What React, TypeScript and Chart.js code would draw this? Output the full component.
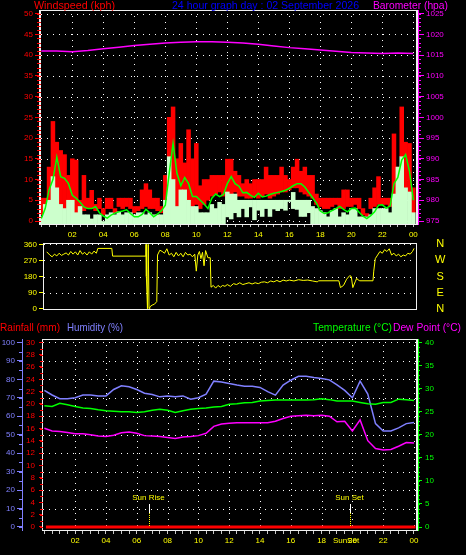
import React, { useEffect, useRef } from 'react';
import { Chart, registerables } from 'chart.js';

Chart.register(...registerables);

const FONT = '"Liberation Sans", Arial, sans-serif';
const RED = '#ff0000';
const MAGENTA = '#ff00ff';
const YELLOW = '#ffff00';
const GREEN = '#00ff00';
const TITLE_BLUE = '#0000ff';
const HUMID = '#8080ff';
const CALM = '#ccffcc';
const FRAME = '#f0f0f0';

// ---------------- data ----------------
const windHours = Array.from({ length: 97 }, (_, i) => i * 0.25);
// top of the red (gust) bars
const windGust = [
  5.5, 5.5, 13, 24, 19, 17, 16, 11,
  15, 14.7, 5, 11, 5.5, 7.4, 4, 5.5,
  3, 5.5, 5.5, 3, 5.5, 5.5, 5.5, 5.5,
  3.5, 3.5, 7.5, 9, 7.5, 5.5, 5.5, 3.5,
  11, 25, 27.5, 15, 18.7, 14, 22, 15,
  18.7, 8.5, 10, 10, 11, 11, 11, 11,
  14.9, 14.9, 12, 11, 9, 10, 9, 10,
  10, 10, 13, 11, 11, 11, 13, 11,
  10, 13, 14.9, 12, 13, 11, 11, 6.5,
  5.5, 5.5, 5.5, 5.5, 5.5, 5.5, 7.5, 7.5,
  5.5, 5.5, 5.5, 3, 1.8, 5.5, 8, 10.7,
  5.5, 5.5, 5.5, 21, 12, 27.5, 19, 18.7,
  8,
];
// bottom of the red (gust) bars
const windGustBase = [
  1.5, 4, 5, 10.7, 8, 4, 3, 5,
  5, 2, 3.5, 2.5, 3, 3, 2.5, 3,
  1.5, 3, 3, 2, 3.5, 3, 3.5, 3,
  2, 2.5, 3, 3.5, 3, 3, 2.5, 2,
  5, 15.5, 10, 3.5, 7.5, 7.5, 5, 3.5,
  4, 3, 4, 5, 6, 6.5, 7, 6,
  7, 6.5, 7, 6, 6, 5.5, 5.5, 6,
  5.5, 6, 6.5, 5.5, 6, 6.5, 7, 7,
  7.5, 8, 8, 7, 6.5, 6, 5.5, 4,
  3.5, 3, 3, 3.5, 4, 3, 3, 3.5,
  3.5, 4, 3, 1.5, 1.2, 3, 3.5, 4,
  4, 4, 3.5, 6.5, 13, 15.5, 8, 7,
  2,
];
// top of the pale (average) bars
const windAvg = [
  1, 4, 5, 10.7, 8, 4, 3, 5,
  5, 2, 3.5, 1.5, 1.5, 0.5, 1.5, 1.5,
  0, 1.5, 2, 1.5, 2.2, 1.5, 2, 2,
  1.5, 2, 2, 1.5, 2, 1.5, 1.5, 1.5,
  5, 15.5, 10, 3.5, 7.5, 7.5, 5, 3.5,
  3.5, 2, 2, 2, 4, 3, 4.5, 4,
  7, 6.5, 6.5, 5, 5, 5, 5, 5,
  5, 5, 5, 5, 5, 5, 5, 5,
  5, 6.9, 5, 5, 5, 5, 3.5, 3,
  2.5, 2, 1, 2.5, 3, 1, 2, 1.5,
  3, 3, 1, 1, 1, 1.5, 3, 3,
  3, 3, 2, 6.5, 13, 15.5, 8, 7,
  2,
];
// bottom of the pale (average) bars
const windLow = [
  0, 0, 0, 0, 0, 0, 0, 0,
  0, 0, 0, 0, 0, 0, 0, 0,
  0, 0, 0, 0, 0, 0, 0, 0,
  0, 0, 0, 0, 0, 0, 0, 0,
  0, 0, 0, 0, 0, 0, 0, 0,
  0, 0, 0, 0, 0, 0, 0, 0,
  1, 0.5, 2, 1, 3, 1, 3.4, 0.3,
  2.6, 1.1, 3, 1.1, 2.9, 2.5, 3, 2.6,
  4.7, 3, 2.8, 1.1, 1.1, 2, 0, 0,
  0, 0, 0, 0, 0, 0, 0, 0,
  0, 0, 0, 0, 0, 0, 0, 0,
  0, 0, 0, 0, 0, 0, 0, 0,
  0,
];
// green average line
const windTrend = [
  0.6, 3, 7.5, 10, 15.4, 10.7, 10.3, 9,
  6.2, 5.5, 4.5, 3.4, 3, 3, 3.5, 2,
  1.2, 0.7, 1.4, 1.9, 2.2, 2.4, 2.7, 1.8,
  1, 1, 1.6, 2.8, 2, 1, 1.7, 2.5,
  3.8, 11.5, 18.7, 11.5, 8.5, 10.5, 9, 5.9,
  5.9, 5, 4.1, 3, 5.5, 6.5, 5.9, 6.4,
  9, 10.7, 9, 8.4, 6.8, 6.9, 6.2, 5.7,
  6.7, 5.8, 6, 6.4, 6.7, 6.9, 7.1, 7.4,
  7.9, 8.5, 9, 9, 8.2, 6.9, 5.6, 4.3,
  2.4, 1.8, 2, 2.5, 3, 3.5, 2.8, 2.2,
  3, 3.1, 2.1, 1.2, 0.6, 1.3, 2.2, 3.8,
  3.9, 3.1, 3.6, 9, 10.5, 14.7, 16, 12,
  5,
];
const baroHours = [0, 1, 2, 3, 4, 5, 6, 7, 8, 9, 10, 11, 12, 13, 14, 15, 16, 17, 18, 19, 20, 21, 22, 23, 24];
const baroHpa = [
  1016.0, 1016.0, 1015.8, 1016.1, 1016.5, 1016.9, 1017.3, 1017.6, 1017.9, 1018.1,
  1018.2, 1018.2, 1018.1, 1017.9, 1017.6, 1017.2, 1016.8, 1016.5, 1016.2, 1015.9,
  1015.6, 1015.5, 1015.4, 1015.5, 1015.4,
];

const dirHours = [
  0.35, 0.55, 0.7, 0.85, 1.0, 1.15, 1.3, 1.45, 1.6, 1.75,
  1.9, 2.05, 2.2, 2.35, 2.5, 2.65, 2.8, 2.95, 3.1, 3.25,
  3.4, 3.55, 3.65, 4.55, 4.6, 6.75, 6.76, 6.78, 6.85, 6.9,
  6.95, 7.0, 7.15, 7.3, 7.45, 7.5, 7.65, 7.8, 7.95, 8.1,
  8.25, 8.4, 8.55, 8.7, 8.85, 9.0, 9.15, 9.3, 9.45, 9.6,
  9.75, 9.9, 10.0, 10.1, 10.2, 10.3, 10.4, 10.5, 10.6, 10.75,
  10.9, 10.95, 11.1, 11.25, 11.4, 11.55, 11.7, 11.85, 12.0, 12.2,
  12.4, 12.6, 12.8, 13.0, 13.2, 13.4, 13.6, 13.8, 14.0, 14.2,
  14.4, 14.6, 14.8, 15.0, 15.2, 15.4, 15.6, 15.8, 16.0, 16.3,
  16.6, 16.9, 17.2, 17.5, 17.8, 17.9, 19.2, 19.3, 19.5, 19.7,
  19.9, 20.0, 20.1, 20.25, 20.35, 20.45, 20.55, 21.4, 21.45, 21.55,
  21.7, 21.85, 22.0, 22.15, 22.3, 22.45, 22.6, 22.75, 22.9, 23.05,
  23.2, 23.35, 23.5, 23.65, 23.8, 23.95, 24.05,
];
const dirDegrees = [
  318, 300, 290, 305, 295, 310, 298, 305, 312, 300,
  320, 305, 318, 300, 325, 305, 315, 300, 318, 305,
  322, 310, 337, 337, 294, 294, 360, 180, 0, 360,
  0, 10, 20, 25, 40, 300, 327, 320, 310, 335,
  300, 310, 290, 315, 295, 310, 290, 315, 300, 305,
  290, 305, 210, 300, 320, 280, 315, 240, 325, 285,
  285, 120, 130, 115, 130, 120, 130, 125, 135, 125,
  140, 135, 145, 135, 140, 145, 138, 145, 140, 148,
  150, 145, 155, 150, 158, 150, 160, 155, 160, 155,
  162, 158, 160, 155, 150, 156, 156, 118, 130, 165,
  185, 180, 118, 150, 170, 160, 156, 156, 210, 280,
  300, 320, 310, 330, 320, 335, 300, 310, 295, 305,
  290, 300, 295, 310, 305, 320, 337,
];

const climateHours = Array.from({ length: 49 }, (_, i) => i * 0.5);
const humidity = [
  74, 71.5, 69.5, 69.5, 70, 71.5, 71.5, 71,
  71, 74.5, 76.5, 76, 74.5, 72.5, 71.8, 70.5,
  71, 70.5, 71, 69.2, 70, 72, 79, 78.6,
  77.7, 76.9, 76.3, 76.3, 75.6, 73.3, 71.4, 76.9,
  79.5, 81.6, 81.6, 81, 80.5, 79.7, 77, 74,
  70, 79, 72, 56, 52, 52, 53.7, 56,
  56.6,
];
const temperature = [
  26.3, 26.1, 26.8, 26.5, 26.1, 25.8, 25.7, 25.4,
  25.2, 25.1, 25.0, 25.0, 24.8, 25.0, 25.3, 25.5,
  25.3, 24.8, 25.2, 25.5, 25.7, 25.8, 26.0, 26.1,
  26.6, 26.7, 26.9, 27.0, 27.3, 27.4, 27.5, 27.5,
  27.5, 27.5, 27.5, 27.6, 27.8, 27.6, 27.3, 27.3,
  27.3, 27.0, 26.7, 26.6, 27.0, 27.0, 27.7, 27.6,
  27.4,
];
const dewPoint = [
  21.4, 20.8, 20.7, 20.5, 20.2, 20.2, 20.0, 19.7,
  19.6, 19.9, 20.4, 20.6, 20.3, 19.8, 19.7, 19.6,
  19.4, 19.2, 19.5, 19.6, 19.8, 20.3, 21.8, 22.3,
  22.5, 22.6, 22.6, 22.6, 22.6, 22.6, 22.9, 23.5,
  24.0, 24.1, 24.2, 24.1, 24.2, 24.0, 22.8, 22.9,
  20.8, 23.2, 18.7, 17.0, 16.7, 16.8, 17.5, 18.3,
  18.2,
];
const rainHours = [0.1, 2, 4, 6, 8, 10, 12, 14, 16, 18, 20, 22, 24.1];
const rainfall = [0, 0, 0, 0, 0, 0, 0, 0, 0, 0, 0, 0, 0];

const sunEvents = [
  { hour: 6.82, label: 'Sun Rise' },
  { hour: 19.87, label: 'Sun Set' },
];

// ---------------- ticks / labels ----------------
const halfHourTicks = Array.from({ length: 49 }, (_, i) => i * 0.5);
const hourLabelValues = [2, 4, 6, 8, 10, 12, 14, 16, 18, 20, 22, 24];
const hourLabels = ['02', '04', '06', '08', '10', '12', '14', '16', '18', '20', '22', '00'];
const windTicks = [0, 5, 10, 15, 20, 25, 30, 35, 40, 45, 50];
const baroTicks = [975, 980, 985, 990, 995, 1000, 1005, 1010, 1015, 1020, 1025];
const dirTicks = [0, 90, 180, 270, 360];
const compassLabels = ['N', 'E', 'S', 'W', 'N'];
const humidityTicks = [0, 10, 20, 30, 40, 50, 60, 70, 80, 90, 100];
const rainTicks = [0, 2, 4, 6, 8, 10, 12, 14, 16, 18, 20, 22, 24, 26, 28, 30];
const tempTicks = [0, 5, 10, 15, 20, 25, 30, 35, 40];
const gridHours = [2, 4, 6, 8, 10, 12, 14, 16, 18, 20, 22, 24];

const WIND_MIN = -0.72;
const WIND_MAX = 50.87;

const pts = (xs: number[], ys: number[]) => xs.map((x, i) => ({ x, y: ys[i] }));
// floating bars; a zero base is anchored to the floor of the plot
const bars = (xs: number[], lo: number[], hi: number[]) =>
  xs.map((x, i) => ({ x, y: [lo[i] === 0 ? WIND_MIN : lo[i], hi[i]] }));
const setTicks = (vals: number[]) => (s: any) => {
  s.ticks = vals.map((v) => ({ value: v }));
};
const hourLabel = (v: any) => {
  const i = hourLabelValues.indexOf(Number(v));
  return i >= 0 ? hourLabels[i] : '';
};

function drawGrid(chart: any, yId: string, yVals: number[], xVals: number[]) {
  const { ctx, chartArea: a } = chart;
  const ys = chart.scales[yId];
  const xs = chart.scales.x;
  ctx.save();
  ctx.strokeStyle = '#ffffff';
  ctx.lineWidth = 1;
  ctx.setLineDash([1, 5]);
  for (const v of yVals) {
    const y = Math.round(ys.getPixelForValue(v)) + 0.5;
    ctx.beginPath();
    ctx.moveTo(a.left, y);
    ctx.lineTo(a.right, y);
    ctx.stroke();
  }
  for (const v of xVals) {
    const x = Math.round(xs.getPixelForValue(v)) + 0.5;
    ctx.beginPath();
    ctx.moveTo(x, a.top);
    ctx.lineTo(x, a.bottom);
    ctx.stroke();
  }
  ctx.restore();
}

function drawFrame(chart: any, lw: number, rw: number) {
  const { ctx, chartArea: a } = chart;
  ctx.save();
  ctx.fillStyle = FRAME;
  const l = Math.round(a.left), r = Math.round(a.right), t = Math.round(a.top), b = Math.round(a.bottom);
  ctx.fillRect(l - lw, t, r - l + lw, 1);
  ctx.fillRect(l - lw, b, r - l + lw, 1);
  ctx.fillRect(l - lw, t, lw, b - t + 1);
  ctx.fillRect(r - rw, t, rw, b - t + 1);
  ctx.restore();
}

function drawMinor(chart: any, specs: { id: string; step: number; len: number; color: string }[]) {
  const { ctx } = chart;
  ctx.save();
  ctx.lineWidth = 1;
  for (const s of specs) {
    const sc = chart.scales[s.id];
    ctx.strokeStyle = s.color;
    ctx.beginPath();
    for (let v = Math.ceil(sc.min / s.step) * s.step; v <= sc.max; v += s.step) {
      const y = Math.round(sc.getPixelForValue(v)) + 0.5;
      if (sc.position === 'left') {
        ctx.moveTo(sc.right - s.len, y);
        ctx.lineTo(sc.right, y);
      } else {
        ctx.moveTo(sc.left, y);
        ctx.lineTo(sc.left + s.len, y);
      }
    }
    ctx.stroke();
  }
  ctx.restore();
}

function text(ctx: any, s: string, x: number, y: number, color: string, size: number, maxW?: number, align = 'left', base = 'alphabetic') {
  ctx.save();
  ctx.font = `${size}px ${FONT}`;
  ctx.fillStyle = color;
  ctx.textAlign = align;
  ctx.textBaseline = base;
  if (maxW) ctx.fillText(s, x, y, maxW);
  else ctx.fillText(s, x, y);
  ctx.restore();
}

const tickFont = { family: FONT, size: 8 };

function hourAxis(min: number, max: number, height: number, tickLength: number, padding: number, display = true) {
  return {
    type: 'linear',
    position: 'bottom',
    display,
    offset: false,
    min,
    max,
    afterBuildTicks: setTicks(halfHourTicks),
    afterFit: (s: any) => {
      s.height = height;
    },
    ticks: { autoSkip: false, maxRotation: 0, minRotation: 0, color: YELLOW, font: tickFont, padding, callback: hourLabel },
    grid: { offset: false, drawOnChartArea: false, drawTicks: true, tickLength, tickColor: '#c8c8c8' },
    border: { display: false },
  };
}

function yAxis(opts: any) {
  return {
    type: 'linear',
    position: opts.position,
    min: opts.min,
    max: opts.max,
    weight: opts.weight || 0,
    afterBuildTicks: setTicks(opts.ticks),
    afterFit: (s: any) => {
      s.width = opts.width;
    },
    ticks: {
      autoSkip: false,
      color: opts.color,
      font: opts.font || tickFont,
      padding: opts.padding,
      crossAlign: opts.crossAlign || 'near',
      callback: opts.callback || ((v: any) => String(v)),
    },
    grid: {
      drawOnChartArea: false,
      drawTicks: opts.tickLength > 0,
      tickLength: opts.tickLength,
      tickColor: opts.tickColor || opts.color,
    },
    border: opts.border ? { display: true, color: opts.color, width: 1 } : { display: false },
  };
}

const baseOptions = {
  responsive: false,
  maintainAspectRatio: false,
  animation: false,
  events: [],
  plugins: { legend: { display: false }, tooltip: { enabled: false } },
  elements: { point: { radius: 0 }, line: { tension: 0 } },
};

const barStyle = { type: 'bar', barPercentage: 1, categoryPercentage: 1, grouped: false, borderWidth: 0 };

function topConfig(): any {
  return {
    type: 'line',
    data: {
      datasets: [
        { label: 'Barometer', yAxisID: 'baro', data: pts(baroHours, baroHpa), borderColor: MAGENTA, borderWidth: 1.5, fill: false },
        { label: 'Wind', yAxisID: 'wind', data: pts(windHours, windTrend), borderColor: GREEN, borderWidth: 1.5, fill: false },
        { ...barStyle, label: 'Average', yAxisID: 'wind', data: bars(windHours, windLow, windAvg), backgroundColor: CALM },
        { ...barStyle, label: 'Gust', yAxisID: 'wind', data: bars(windHours, windGustBase, windGust), backgroundColor: RED },
      ],
    },
    options: {
      ...baseOptions,
      layout: { padding: { top: 10, left: 0, right: 0, bottom: 0 } },
      scales: {
        x: hourAxis(-0.02, 24.3, 16, 3, 3),
        wind: yAxis({ position: 'left', min: WIND_MIN, max: WIND_MAX, ticks: windTicks, width: 41, color: RED, padding: 2, tickLength: 6 }),
        baro: yAxis({ position: 'right', min: 974.28, max: 1025.87, ticks: baroTicks, width: 48, color: MAGENTA, padding: 2, tickLength: 6, border: true }),
      },
    },
    plugins: [
      {
        id: 'topDecor',
        beforeDatasetsDraw(chart: any) {
          drawGrid(chart, 'wind', windTicks, gridHours);
        },
        afterDatasetsDraw(chart: any) {
          drawFrame(chart, 2, 2);
          drawMinor(chart, [
            { id: 'wind', step: 1, len: 4, color: RED },
            { id: 'baro', step: 1, len: 3, color: MAGENTA },
          ]);
        },
        afterDraw(chart: any) {
          const ctx = chart.ctx;
          text(ctx, 'Windspeed (kph)', 34, 9, RED, 11, 81);
          text(ctx, '24 hour graph day : 02 September 2026', 172, 9, TITLE_BLUE, 11, 187);
          text(ctx, 'Barometer (hpa)', 373, 9, MAGENTA, 11, 75);
        },
      },
    ],
  };
}

function dirConfig(): any {
  return {
    type: 'line',
    data: {
      datasets: [
        { label: 'Direction', yAxisID: 'dir', data: pts(dirHours, dirDegrees), borderColor: YELLOW, borderWidth: 1, fill: false },
      ],
    },
    options: {
      ...baseOptions,
      layout: { padding: { top: 7, left: 0, right: 0, bottom: 9 } },
      scales: {
        x: hourAxis(0.174, 24.24, 0, 0, 0, false),
        dir: yAxis({ position: 'left', min: -1.7, max: 367.3, ticks: dirTicks, width: 44, color: YELLOW, padding: 2, tickLength: 5 }),
        compass: yAxis({
          position: 'right', min: -1.7, max: 367.3, ticks: dirTicks, width: 49, color: YELLOW, padding: 0,
          tickLength: 18, tickColor: 'rgba(0,0,0,0)',
          crossAlign: 'center', font: { family: FONT, size: 11, lineHeight: 1 },
          callback: (v: any) => compassLabels[dirTicks.indexOf(Number(v))] || '',
        }),
      },
    },
    plugins: [
      {
        id: 'dirDecor',
        beforeDatasetsDraw(chart: any) {
          const { ctx, chartArea: a } = chart;
          const ys = chart.scales.dir;
          ctx.save();
          ctx.strokeStyle = '#ffffff';
          ctx.setLineDash([1, 5]);
          for (const v of [90, 180, 270, 360]) {
            const y = Math.round(ys.getPixelForValue(v)) + 0.5;
            ctx.beginPath();
            ctx.moveTo(a.left, y);
            ctx.lineTo(a.right, y);
            ctx.stroke();
          }
          ctx.restore();
        },
        afterDatasetsDraw(chart: any) {
          drawFrame(chart, 1, 1);
        },
      },
    ],
  };
}

function bottomConfig(): any {
  return {
    type: 'line',
    data: {
      datasets: [
        { label: 'Rainfall', yAxisID: 'rain', data: pts(rainHours, rainfall), borderColor: RED, borderWidth: 3, fill: false },
        { label: 'Dew Point', yAxisID: 'temp', data: pts(climateHours, dewPoint), borderColor: MAGENTA, borderWidth: 1.5, fill: false },
        { label: 'Temperature', yAxisID: 'temp', data: pts(climateHours, temperature), borderColor: GREEN, borderWidth: 1.5, fill: false },
        { label: 'Humidity', yAxisID: 'hum', data: pts(climateHours, humidity), borderColor: HUMID, borderWidth: 1.5, fill: false },
      ],
    },
    options: {
      ...baseOptions,
      layout: { padding: { top: 21, left: 0, right: 0, bottom: 0 } },
      scales: {
        x: hourAxis(-0.09, 24.26, 25, 4, 2),
        rain: yAxis({ position: 'left', weight: 0, min: -0.49, max: 30.55, ticks: rainTicks, width: 21, color: RED, padding: 4, tickLength: 4 }),
        hum: yAxis({ position: 'left', weight: 1, min: -1.63, max: 101.84, ticks: humidityTicks, width: 22, color: HUMID, padding: 2, tickLength: 5, border: true }),
        temp: yAxis({ position: 'right', min: -0.65, max: 40.74, ticks: tempTicks, width: 48, color: GREEN, padding: 3, tickLength: 4, border: true }),
      },
    },
    plugins: [
      {
        id: 'bottomDecor',
        beforeDatasetsDraw(chart: any) {
          drawGrid(chart, 'hum', humidityTicks.filter((v) => v > 0), gridHours);
        },
        afterDatasetsDraw(chart: any) {
          const { ctx, chartArea: a } = chart;
          drawFrame(chart, 1, 2);
          drawMinor(chart, [
            { id: 'hum', step: 5, len: 3, color: HUMID },
            { id: 'rain', step: 1, len: 3, color: RED },
            { id: 'temp', step: 1, len: 2, color: GREEN },
          ]);
          const xs = chart.scales.x;
          for (const ev of sunEvents) {
            const px = Math.round(xs.getPixelForValue(ev.hour)) + 0.5;
            ctx.save();
            ctx.strokeStyle = '#ffffff';
            ctx.lineWidth = 1;
            ctx.beginPath();
            ctx.moveTo(px, a.bottom - 26);
            ctx.lineTo(px, a.bottom - 17);
            ctx.stroke();
            ctx.strokeStyle = YELLOW;
            ctx.setLineDash([1, 1]);
            ctx.beginPath();
            ctx.moveTo(px, a.bottom - 17);
            ctx.lineTo(px, a.bottom - 3);
            ctx.stroke();
            ctx.restore();
            text(ctx, ev.label, px - 1, a.bottom - 30, YELLOW, 8, undefined, 'center');
          }
          const ss = sunEvents[1];
          text(ctx, 'SunSet', Math.round(xs.getPixelForValue(ss.hour)) - 4, a.bottom + 11, YELLOW, 8, undefined, 'center', 'middle');
        },
        afterDraw(chart: any) {
          const ctx = chart.ctx;
          text(ctx, 'Rainfall (mm)', 0, 13, RED, 11, 60);
          text(ctx, 'Humidity (%)', 67, 13, HUMID, 11, 56);
          text(ctx, 'Temperature (°C)', 313, 13, GREEN, 11, 79);
          text(ctx, 'Dew Point (°C)', 393, 13, MAGENTA, 11, 68);
        },
      },
    ],
  };
}

export default function App() {
  const topRef = useRef<HTMLCanvasElement>(null);
  const dirRef = useRef<HTMLCanvasElement>(null);
  const botRef = useRef<HTMLCanvasElement>(null);

  useEffect(() => {
    document.body.style.margin = '0';
    document.body.style.background = '#000';
    Chart.defaults.font.family = FONT;
    const charts = [
      new Chart(topRef.current as HTMLCanvasElement, topConfig()),
      new Chart(dirRef.current as HTMLCanvasElement, dirConfig()),
      new Chart(botRef.current as HTMLCanvasElement, bottomConfig()),
    ];
    return () => charts.forEach((c) => c.destroy());
  }, []);

  const cs = (top: number, h: number): React.CSSProperties => ({ position: 'absolute', left: 0, top, width: 466, height: h });

  return (
    <div style={{ position: 'absolute', left: 0, top: 0, width: 466, height: 555, background: '#000', overflow: 'hidden' }}>
      <canvas ref={topRef} width={466} height={240} style={cs(0, 240)} />
      <canvas ref={dirRef} width={466} height={82} style={cs(236, 82)} />
      <canvas ref={botRef} width={466} height={237} style={cs(318, 237)} />
    </div>
  );
}
